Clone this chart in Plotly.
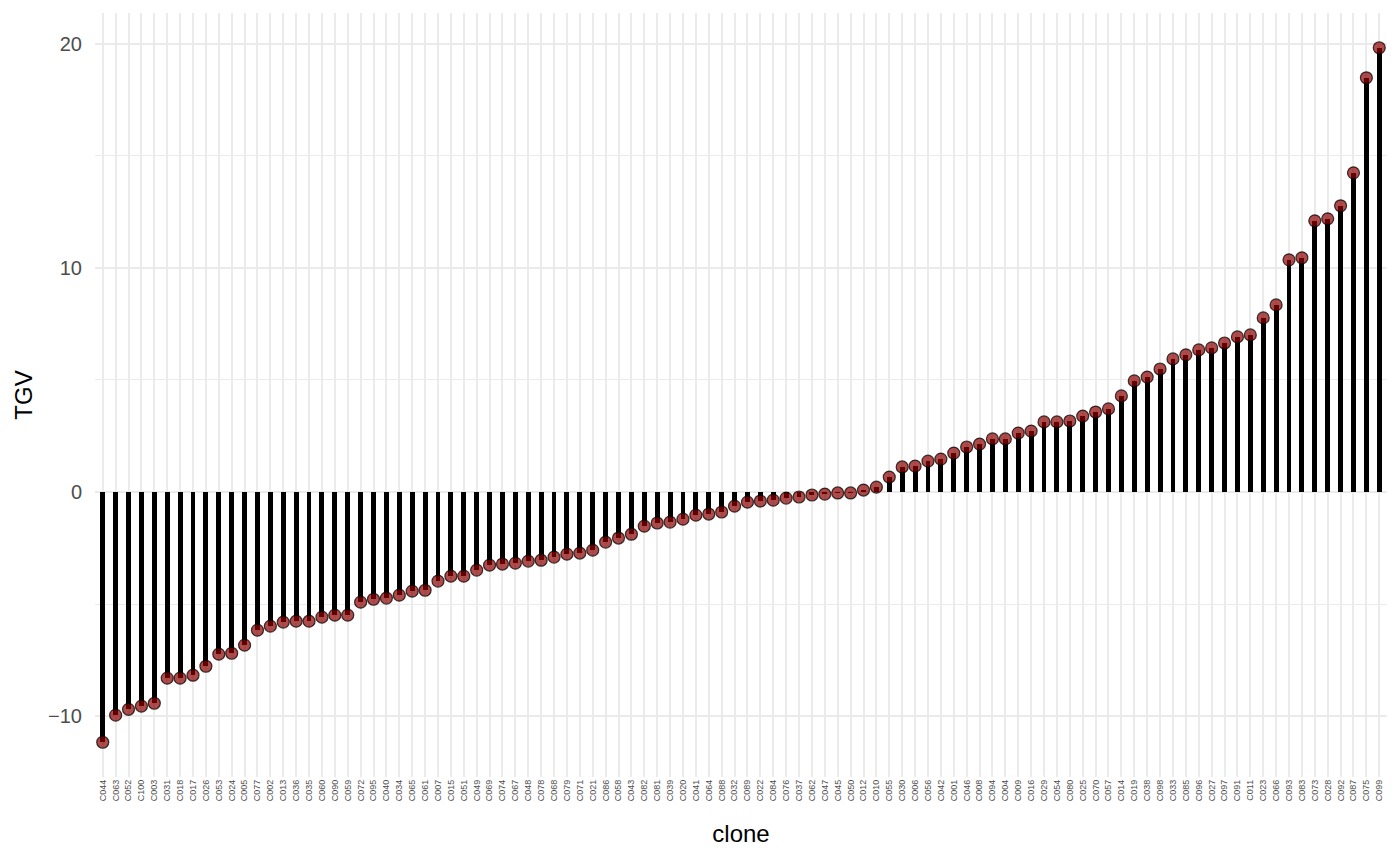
import plotly.graph_objects as go

# ======== DATOS =========
clones = [
    "C044", "C063", "C052", "C100", "C003", "C031", "C018", "C017", "C026", "C053",
    "C024", "C005", "C077", "C002", "C013", "C036", "C035", "C060", "C090", "C059",
    "C072", "C095", "C040", "C034", "C065", "C061", "C007", "C015", "C051", "C049",
    "C069", "C074", "C067", "C048", "C078", "C068", "C079", "C071", "C021", "C086",
    "C058", "C043", "C082", "C081", "C039", "C020", "C041", "C064", "C088", "C032",
    "C089", "C022", "C084", "C076", "C037", "C062", "C047", "C045", "C050", "C012",
    "C010", "C055", "C030", "C006", "C056", "C042", "C001", "C046", "C008", "C094",
    "C004", "C009", "C016", "C029", "C054", "C080", "C025", "C070", "C057", "C014",
    "C019", "C038", "C098", "C033", "C085", "C096", "C027", "C097", "C091", "C011",
    "C023", "C066", "C093", "C083", "C073", "C028", "C092", "C087", "C075", "C099",
]

tgv = [
    -11.16, -9.95, -9.69, -9.55, -9.42, -8.30, -8.30, -8.17, -7.77, -7.23,
    -7.19, -6.83, -6.16, -5.98, -5.80, -5.76, -5.76, -5.58, -5.49, -5.49,
    -4.91, -4.78, -4.73, -4.60, -4.42, -4.38, -3.97, -3.75, -3.75, -3.48,
    -3.26, -3.21, -3.17, -3.08, -3.04, -2.90, -2.77, -2.72, -2.59, -2.23,
    -2.05, -1.88, -1.52, -1.38, -1.34, -1.21, -1.03, -0.98, -0.89, -0.63,
    -0.45, -0.40, -0.36, -0.27, -0.22, -0.13, -0.09, -0.04, -0.04, 0.09,
    0.22, 0.67, 1.12, 1.16, 1.38, 1.47, 1.74, 2.01, 2.14, 2.37,
    2.37, 2.63, 2.72, 3.13, 3.13, 3.17, 3.39, 3.57, 3.71, 4.29,
    4.96, 5.13, 5.49, 5.94, 6.12, 6.34, 6.43, 6.65, 6.92, 7.01,
    7.77, 8.35, 10.36, 10.45, 12.10, 12.19, 12.77, 14.24, 18.48, 19.82,
]

y_ticks = [-10, 0, 10, 20]

FONT = "Liberation Sans, Arial, sans-serif"
GRID = "#EBEBEB"

# ======== FIGURA =========
fig = go.Figure()

# tallos (segmentos desde 0)
fig.add_trace(go.Bar(
    x=clones, y=tgv,
    width=0.38,
    marker=dict(color="black", line=dict(width=0)),
    hoverinfo="skip",
    showlegend=False,
))

# puntos
fig.add_trace(go.Scatter(
    x=clones, y=tgv,
    mode="markers",
    marker=dict(size=12, color="rgba(139,0,0,0.7)",
                line=dict(color="rgba(0,0,0,0.75)", width=1.2)),
    hovertemplate="%{x}: %{y:.2f}<extra></extra>",
    showlegend=False,
))

fig.update_layout(
    width=1400, height=865,
    paper_bgcolor="white", plot_bgcolor="white",
    font=dict(family=FONT, color="#4D4D4D"),
    margin=dict(l=87, r=21, t=5, b=96),
    bargap=0,
    xaxis=dict(
        title=dict(text="clone", font=dict(size=24, color="black"), standoff=24),
        type="category",
        categoryorder="array", categoryarray=clones,
        range=[-0.6, len(clones) - 0.4],
        showgrid=True, gridcolor=GRID, gridwidth=2.2,
        tickangle=-90, tickfont=dict(size=9, color="#4D4D4D"),
        ticks="", zeroline=False, showline=False,
    ),
    yaxis=dict(
        title=dict(text="TGV", font=dict(size=24, color="black"), standoff=8),
        range=[-12.71, 21.37],
        tickvals=y_ticks,
        tickfont=dict(size=20, color="#4D4D4D"),
        ticklabelstandoff=12,
        showgrid=True, gridcolor=GRID, gridwidth=2.2,
        minor=dict(tickvals=[-5, 5, 15], showgrid=True, gridcolor=GRID, gridwidth=1.1),
        ticks="", zeroline=False, showline=False,
    ),
)

fig.write_html("out.html")
